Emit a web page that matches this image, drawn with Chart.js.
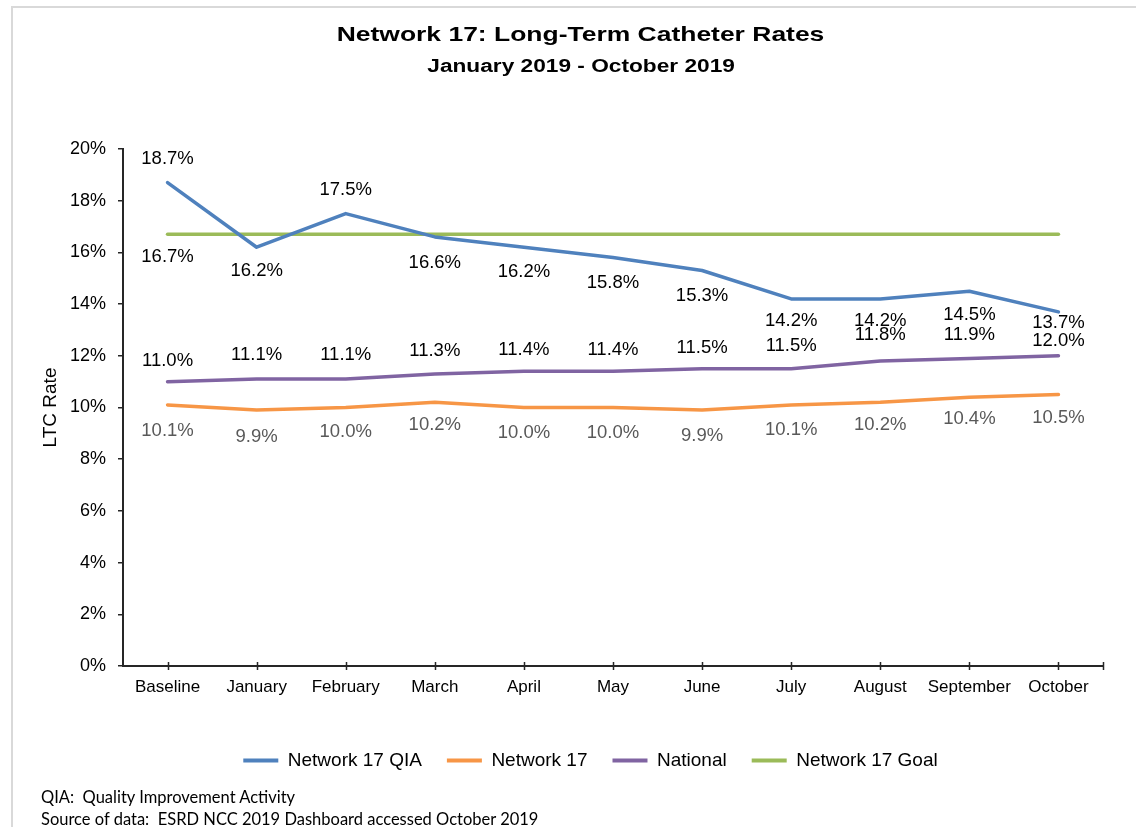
<!DOCTYPE html>
<html>
<head>
<meta charset="utf-8">
<title>Network 17: Long-Term Catheter Rates</title>
<script src="https://cdn.jsdelivr.net/npm/chart.js@4.4.1/dist/chart.umd.min.js"></script>
<style>
  html, body { margin: 0; padding: 0; background: #fff; }
  body { width: 1136px; height: 827px; position: relative; overflow: hidden; font-family: "Liberation Sans", Arial, sans-serif; }
  .frame { position: absolute; left: 11px; top: 6px; width: 1200px; height: 900px; border-left: 2px solid #d9d9d9; border-top: 2px solid #d9d9d9; }
  canvas { position: absolute; left: 0; top: 0; }
  .heading { position: absolute; left: 0; width: 1162px; text-align: center; font-weight: bold; color: #000; white-space: nowrap; }
  .heading span { display: inline-block; transform: scaleX(1.26); }
  #title { top: 22px; font-size: 21px; line-height: 24px; }
  #subtitle { top: 56px; font-size: 18px; line-height: 20px; }
  .notes { position: absolute; left: 41px; top: 786px; font-family: Lato, "Open Sans", sans-serif; font-size: 16.5px; line-height: 22px; color: #000; white-space: pre; }
</style>
</head>
<body>
<div class="frame"></div>
<canvas id="ltcChart" width="1136" height="827"></canvas>
<div class="heading" id="title"><span>Network 17: Long-Term Catheter Rates</span></div>
<div class="heading" id="subtitle"><span>January 2019 - October 2019</span></div>
<div class="notes">QIA:  Quality Improvement Activity
Source of data:  ESRD NCC 2019 Dashboard accessed October 2019</div>
<script>
const categories = ['Baseline', 'January', 'February', 'March', 'April', 'May', 'June', 'July', 'August', 'September', 'October'];
const qiaRates = [18.7, 16.2, 17.5, 16.6, 16.2, 15.8, 15.3, 14.2, 14.2, 14.5, 13.7];
const network17Rates = [10.1, 9.9, 10.0, 10.2, 10.0, 10.0, 9.9, 10.1, 10.2, 10.4, 10.5];
const nationalRates = [11.0, 11.1, 11.1, 11.3, 11.4, 11.4, 11.5, 11.5, 11.8, 11.9, 12.0];
const goalRates = [16.7, 16.7, 16.7, 16.7, 16.7, 16.7, 16.7, 16.7, 16.7, 16.7, 16.7];
const yTickValues = [0, 2, 4, 6, 8, 10, 12, 14, 16, 18, 20];

// vertical shift of each value label from its point (negative = above), null = no label
const qiaLabelShift = [-24, 24, -24, 26, 25, 25, 25, 22, 22, 24, 11];
const network17LabelShift = [26, 27, 24, 23, 25, 25, 26, 25, 23, 22, 23];
const nationalLabelShift = [-21, -24, -24, -23, -21, -21, -21, -23, -26, -23, -15];
const goalLabelShift = [23, null, null, null, null, null, null, null, null, null, null];

const axisColor = '#262626';

const valueLabels = {
    id: 'valueLabels',
    afterDatasetsDraw(chart) {
        const ctx = chart.ctx;
        ctx.save();
        ctx.font = '18.5px "Liberation Sans", Arial, sans-serif';
        ctx.textAlign = 'center';
        ctx.textBaseline = 'middle';
        chart.data.datasets.forEach((ds, di) => {
            const meta = chart.getDatasetMeta(di);
            ctx.fillStyle = ds.labelColor;
            meta.data.forEach((pt, i) => {
                const shift = ds.labelShift[i];
                if (shift === null) return;
                ctx.fillText(ds.data[i].toFixed(1) + '%', pt.x, pt.y + shift);
            });
        });
        ctx.restore();
    }
};

// x axis tick marks cross the axis line, with one more at the right end
const crossTicks = {
    id: 'crossTicks',
    afterDraw(chart) {
        const ctx = chart.ctx;
        const xScale = chart.scales.x;
        const bottom = chart.chartArea.bottom;
        const xs = xScale.ticks.map((t, i) => xScale.getPixelForTick(i));
        xs.push(chart.chartArea.right);
        ctx.save();
        ctx.strokeStyle = axisColor;
        ctx.lineWidth = 1.5;
        ctx.beginPath();
        xs.forEach(x => {
            const px = Math.round(x) + 0.5;
            ctx.moveTo(px, bottom - 4);
            ctx.lineTo(px, bottom + 4);
        });
        ctx.stroke();
        ctx.restore();
    }
};

// nudge the legend so it sits where the original one does
const legendNudge = {
    id: 'legendNudge',
    afterLayout(chart) {
        chart.legend.left += 21;
        chart.legend.right += 21;
    }
};

function lineSeries(label, data, color, labelColor, labelShift) {
    return {
        label: label,
        data: data,
        borderColor: color,
        backgroundColor: color,
        borderWidth: 3.5,
        borderCapStyle: 'round',
        borderJoinStyle: 'round',
        pointRadius: 0,
        pointHoverRadius: 0,
        tension: 0,
        labelColor: labelColor,
        labelShift: labelShift
    };
}

new Chart(document.getElementById('ltcChart').getContext('2d'), {
    type: 'line',
    data: {
        labels: categories,
        datasets: [
            lineSeries('Network 17 QIA', qiaRates, '#4F81BD', '#000000', qiaLabelShift),
            lineSeries('Network 17', network17Rates, '#F79646', '#595959', network17LabelShift),
            lineSeries('National', nationalRates, '#8064A2', '#000000', nationalLabelShift),
            lineSeries('Network 17 Goal', goalRates, '#9BBB59', '#000000', goalLabelShift)
        ]
    },
    options: {
        responsive: false,
        animation: false,
        devicePixelRatio: 1,
        layout: { padding: { left: 36, right: 33, top: 149, bottom: 47 } },
        plugins: {
            tooltip: { enabled: false },
            legend: {
                position: 'bottom',
                labels: {
                    boxWidth: 35,
                    boxHeight: 4,
                    padding: 25,
                    color: '#000',
                    font: { family: '"Liberation Sans", Arial, sans-serif', size: 19 },
                    generateLabels: chart => Chart.defaults.plugins.legend.labels.generateLabels(chart)
                        .map(item => ({ ...item, lineWidth: 0 }))
                }
            }
        },
        scales: {
            x: {
                offset: true,
                afterFit: axis => { axis.height = 60; },
                grid: { display: false },
                border: { display: true, color: axisColor, width: 2 },
                ticks: { color: '#000', padding: 3, maxRotation: 0, autoSkip: false, font: { family: '"Liberation Sans", Arial, sans-serif', size: 17 } }
            },
            y: {
                min: 0,
                max: 20,
                afterFit: axis => { axis.width = 87; },
                afterBuildTicks: axis => { axis.ticks = yTickValues.map(v => ({ value: v })); },
                grid: { drawOnChartArea: false, tickLength: 5, color: axisColor, lineWidth: 1.5 },
                border: { display: true, color: axisColor, width: 2 },
                ticks: {
                    color: '#000',
                    padding: 12,
                    font: { family: '"Liberation Sans", Arial, sans-serif', size: 18 },
                    callback: v => v + '%'
                },
                title: {
                    display: true,
                    text: 'LTC Rate',
                    color: '#000',
                    padding: { top: 3, bottom: 0 },
                    font: { family: '"Liberation Sans", Arial, sans-serif', size: 19 }
                }
            }
        }
    },
    plugins: [valueLabels, crossTicks, legendNudge]
});
</script>
</body>
</html>
